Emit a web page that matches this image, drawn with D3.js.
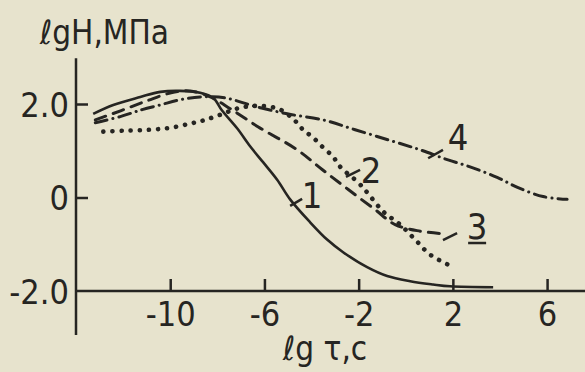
<!DOCTYPE html>
<html>
<head>
<meta charset="utf-8">
<script src="https://cdn.jsdelivr.net/npm/d3@7"></script>
<style>
  html, body { margin: 0; padding: 0; background: #e7e3cd; }
  svg { display: block; }
  text { font-family: "DejaVu Sans", sans-serif; font-stretch: condensed; fill: #262522; }
</style>
</head>
<body>
<div id="chart"></div>
<script>
// lg tau (x) vs lg H (y)
const curve1 = [[-13.27,1.79],[-12.42,1.98],[-11.27,2.15],[-10.42,2.26],[-9.58,2.28],[-8.73,2.24],[-8.17,2.13],[-7.8,1.86],[-7.16,1.48],[-6.60,1.09],[-6.05,0.75],[-5.46,0.38],[-4.91,-0.04],[-4.06,-0.53],[-3.34,-0.90],[-2.66,-1.17],[-1.64,-1.49],[-0.79,-1.68],[0.19,-1.79],[1.16,-1.86],[1.88,-1.90],[3.71,-1.92]];
const curve2 = [[-12.84,1.41],[-11.91,1.43],[-10.85,1.45],[-10.0,1.49],[-9.15,1.58],[-8.51,1.66],[-7.88,1.77],[-7.03,1.92],[-6.18,1.96],[-5.33,1.88],[-4.70,1.64],[-4.36,1.45],[-3.93,1.28],[-3.51,1.07],[-3.08,0.87],[-2.79,0.66],[-2.02,0.32],[-1.64,0.11],[-0.96,-0.30],[-0.24,-0.58],[0.40,-0.90],[1.03,-1.22],[2.10,-1.51]];
const curve3 = [[-13.18,1.66],[-12.08,1.86],[-10.98,2.07],[-9.96,2.24],[-9.15,2.28],[-8.30,2.15],[-7.45,1.90],[-6.26,1.51],[-4.61,1.02],[-3.55,0.60],[-2.44,0.17],[-1.30,-0.26],[-0.45,-0.58],[0.61,-0.72],[1.46,-0.77]];
const curve4 = [[-13.18,1.60],[-12.12,1.73],[-11.19,1.88],[-10.42,1.98],[-9.58,2.09],[-8.73,2.15],[-7.67,2.13],[-6.48,1.96],[-5.03,1.79],[-3.51,1.66],[-2.15,1.45],[-0.66,1.22],[0.61,1.02],[1.76,0.81],[2.82,0.64],[3.88,0.43],[4.77,0.21],[5.83,0.02],[6.85,-0.04]];

const xTicks = [-10, -6, -2, 2, 6];
const yTicks = [2, 0, -2];
const yTickLabels = ["2.0", "0", "-2.0"];

const curveLabels = [
  { text: "1", at: [-3.98, 0.05], lead: [[-4.91,-0.18],[-4.40,-0.03]] },
  { text: "2", at: [-1.47, 0.59], lead: [[-2.54,0.44],[-1.94,0.59]] },
  { text: "3", at: [3.03, -0.61], lead: [[1.58,-0.91],[2.18,-0.76]] },
  { text: "4", at: [2.22, 1.29], lead: [[0.95,0.84],[1.58,1.02]] }
];

const width = 585, height = 372;
const ink = "#262522";

const svg = d3.select("#chart").append("svg")
  .attr("width", width)
  .attr("height", height);

const x = d3.scaleLinear().domain([-14, 7.61]).range([76, 585]);
const y = d3.scaleLinear().domain([-2, 2]).range([291, 104]);

// axis lines
svg.append("line")
  .attr("x1", x(-14)).attr("x2", x(-14))
  .attr("y1", y(2.98)).attr("y2", y(-2.94))
  .attr("stroke", ink).attr("stroke-width", 2.5);
svg.append("line")
  .attr("x1", x(-14)).attr("x2", x(7.61))
  .attr("y1", y(-2)).attr("y2", y(-2))
  .attr("stroke", ink).attr("stroke-width", 2.5);

// x axis ticks point up
const xAxis = svg.append("g")
  .attr("transform", "translate(0," + y(-2) + ")")
  .call(d3.axisBottom(x).tickValues(xTicks).tickSize(-12).tickPadding(11)
    .tickFormat(d => d < 0 ? "-" + Math.abs(d) : d));
xAxis.select(".domain").remove();
xAxis.selectAll("line").attr("stroke", ink).attr("stroke-width", 2.5);
xAxis.selectAll("text").attr("font-size", 34).attr("fill", ink);

// y axis ticks point right
const yAxis = svg.append("g")
  .attr("transform", "translate(" + x(-14) + ",0)")
  .call(d3.axisLeft(y).tickValues(yTicks).tickSize(-12).tickPadding(7)
    .tickFormat((d, i) => yTickLabels[i]));
yAxis.select(".domain").remove();
yAxis.selectAll("line").attr("stroke", ink).attr("stroke-width", 2.5)
  .filter(d => d === -2).remove();
yAxis.selectAll("text").attr("font-size", 34).attr("fill", ink).attr("dy", "0.36em");

// curves
const line = d3.line()
  .x(d => x(d[0]))
  .y(d => y(d[1]))
  .curve(d3.curveCatmullRom.alpha(0.5));

const styles = [
  { data: curve1, dash: null, w: 2.6 },
  { data: curve2, dash: "0.1 9", w: 4.6 },
  { data: curve3, dash: "11 8", w: 3 },
  { data: curve4, dash: "12 6 0.1 6", w: 3 }
];

svg.selectAll("path.curve")
  .data(styles)
  .enter()
  .append("path")
  .attr("class", "curve")
  .attr("d", s => line(s.data))
  .attr("fill", "none")
  .attr("stroke", ink)
  .attr("stroke-width", s => s.w)
  .attr("stroke-linecap", s => s.dash ? "round" : "butt")
  .attr("stroke-dasharray", s => s.dash);

// curve numbers and leaders
svg.selectAll("line.lead")
  .data(curveLabels)
  .enter()
  .append("line")
  .attr("x1", d => x(d.lead[0][0])).attr("y1", d => y(d.lead[0][1]))
  .attr("x2", d => x(d.lead[1][0])).attr("y2", d => y(d.lead[1][1]))
  .attr("stroke", ink).attr("stroke-width", 2.5);

svg.selectAll("text.num")
  .data(curveLabels)
  .enter()
  .append("text")
  .attr("x", d => x(d.at[0]))
  .attr("y", d => y(d.at[1]))
  .attr("dy", "0.36em")
  .attr("text-anchor", "middle")
  .attr("font-size", 36)
  .text(d => d.text);

// underline under "3"
svg.append("line")
  .attr("x1", x(3.03) - 9).attr("x2", x(3.03) + 9)
  .attr("y1", y(-0.61) + 17).attr("y2", y(-0.61) + 17)
  .attr("stroke", ink).attr("stroke-width", 2.5);

// axis titles
svg.append("text")
  .attr("x", 40).attr("y", 44)
  .attr("font-size", 33)
  .text("ℓgH,МПа");

svg.append("text")
  .attr("x", 283).attr("y", 360)
  .attr("font-size", 33)
  .text("ℓg τ,с");
</script>
</body>
</html>
